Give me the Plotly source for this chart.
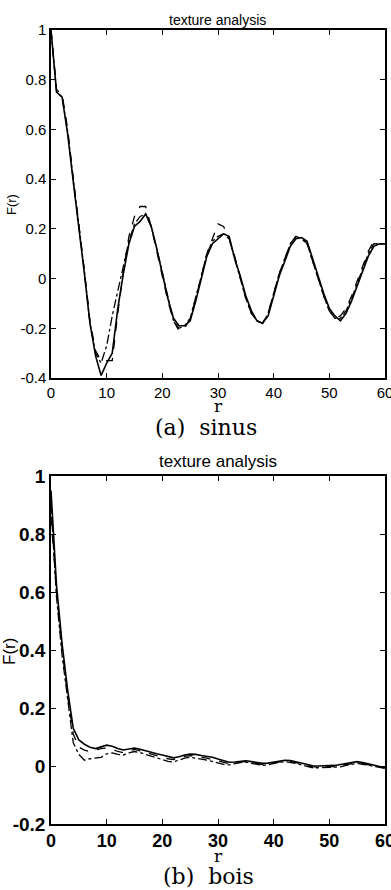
import plotly.graph_objects as go

# ---------------- data ----------------
r = list(range(0, 61))

sinus_solid = [1.00, 0.75, 0.73, 0.58, 0.39, 0.21, 0.02, -0.18, -0.31, -0.39,
               -0.34, -0.30, -0.12, 0.02, 0.14, 0.21, 0.23, 0.26, 0.21, 0.12,
               0.02, -0.08, -0.16, -0.19, -0.19, -0.17, -0.09, 0.00, 0.09, 0.14,
               0.16, 0.18, 0.17, 0.08, 0.01, -0.07, -0.13, -0.17, -0.18, -0.15,
               -0.07, 0.01, 0.07, 0.13, 0.16, 0.165, 0.15, 0.08, 0.01, -0.06,
               -0.12, -0.15, -0.17, -0.14, -0.09, -0.03, 0.03, 0.09, 0.13, 0.14,
               0.14]
sinus_dash = [1.00, 0.76, 0.74, 0.60, 0.40, 0.22, 0.03, -0.17, -0.29, -0.33,
              -0.33, -0.33, -0.14, 0.03, 0.17, 0.25, 0.29, 0.29, 0.21, 0.11,
              0.02, -0.09, -0.17, -0.21, -0.20, -0.16, -0.08, 0.01, 0.10, 0.16,
              0.22, 0.21, 0.16, 0.09, 0.00, -0.08, -0.14, -0.17, -0.18, -0.14,
              -0.06, 0.02, 0.08, 0.14, 0.17, 0.17, 0.14, 0.07, 0.00, -0.07,
              -0.13, -0.16, -0.15, -0.12, -0.07, -0.01, 0.05, 0.11, 0.15, 0.14,
              0.14]
sinus_dashdot = [1.00, 0.75, 0.73, 0.59, 0.40, 0.22, 0.03, -0.18, -0.30, -0.34,
                 -0.27, -0.15, -0.05, 0.04, 0.15, 0.22, 0.25, 0.26, 0.21, 0.12,
                 0.02, -0.08, -0.17, -0.20, -0.19, -0.16, -0.08, 0.01, 0.10, 0.15,
                 0.17, 0.18, 0.16, 0.08, 0.00, -0.08, -0.14, -0.17, -0.18, -0.14,
                 -0.06, 0.02, 0.08, 0.14, 0.17, 0.16, 0.14, 0.07, 0.00, -0.07,
                 -0.13, -0.16, -0.16, -0.13, -0.08, -0.02, 0.04, 0.10, 0.14, 0.14,
                 0.14]

bois_solid = [0.95, 0.62, 0.42, 0.26, 0.13, 0.09, 0.075, 0.065, 0.06, 0.065,
              0.072, 0.068, 0.06, 0.055, 0.058, 0.062, 0.058, 0.052, 0.047, 0.042,
              0.038, 0.032, 0.028, 0.032, 0.038, 0.041, 0.04, 0.036, 0.033, 0.03,
              0.024, 0.018, 0.013, 0.014, 0.017, 0.018, 0.015, 0.012, 0.009, 0.01,
              0.014, 0.018, 0.02, 0.019, 0.015, 0.011, 0.005, 0.001, 0.0, 0.0,
              0.0, 0.002, 0.005, 0.009, 0.013, 0.015, 0.012, 0.007, 0.003, -0.002,
              -0.006]
bois_dash = [0.86, 0.60, 0.40, 0.24, 0.11, 0.065, 0.055, 0.05, 0.055, 0.06,
             0.062, 0.058, 0.05, 0.046, 0.052, 0.057, 0.052, 0.046, 0.04, 0.035,
             0.03, 0.025, 0.022, 0.027, 0.033, 0.036, 0.034, 0.03, 0.027, 0.022,
             0.017, 0.012, 0.008, 0.01, 0.014, 0.015, 0.012, 0.008, 0.005, 0.007,
             0.011, 0.015, 0.017, 0.016, 0.012, 0.008, 0.002, -0.003, -0.004, -0.003,
             -0.002, -0.002, 0.001, 0.005, 0.009, 0.011, 0.008, 0.004, 0.0, -0.004,
             -0.007]
bois_dashdot = [0.90, 0.58, 0.38, 0.22, 0.08, 0.04, 0.02, 0.025, 0.027, 0.03,
                0.042, 0.045, 0.04, 0.038, 0.045, 0.05, 0.046, 0.04, 0.034, 0.028,
                0.022, 0.016, 0.014, 0.02, 0.027, 0.03, 0.028, 0.024, 0.02, 0.015,
                0.01, 0.006, 0.004, 0.008, 0.012, 0.013, 0.01, 0.005, 0.002, 0.004,
                0.009, 0.013, 0.015, 0.013, 0.009, 0.004, -0.002, -0.006, -0.006, -0.005,
                -0.004, -0.005, -0.003, 0.002, 0.006, 0.009, 0.006, 0.002, -0.002, -0.005,
                -0.008]

x_ticks = [0, 10, 20, 30, 40, 50, 60]
x_ticklabels = ["0", "10", "20", "30", "40", "50", "60"]
top_y_ticks = [-0.4, -0.2, 0, 0.2, 0.4, 0.6, 0.8, 1]
top_y_ticklabels = ["-0.4", "-0.2", "0", "0.2", "0.4", "0.6", "0.8", "1"]
bot_y_ticks = [-0.2, 0, 0.2, 0.4, 0.6, 0.8, 1]
bot_y_ticklabels = ["-0.2", "0", "0.2", "0.4", "0.6", "0.8", "1"]

panel_titles = ["texture analysis", "texture analysis"]
captions = ["(a)  sinus", "(b)  bois"]

# ---------------- figure ----------------
W, H = 391, 890
NARROW = "Liberation Sans Narrow, Arial Narrow, Liberation Sans, Arial, sans-serif"
SERIF = "DejaVu Serif, serif"

fig = go.Figure()

styles = [("solid", 1.6), ("dash", 1.3), ("dashdot", 1.3)]
for series, (dash, w) in zip([sinus_solid, sinus_dash, sinus_dashdot], styles):
    fig.add_trace(go.Scatter(x=r, y=series, mode="lines", xaxis="x", yaxis="y",
                             line=dict(color="black", width=w, dash=dash),
                             showlegend=False, hoverinfo="skip"))
for series, (dash, w) in zip([bois_solid, bois_dash, bois_dashdot], styles):
    fig.add_trace(go.Scatter(x=r, y=series, mode="lines", xaxis="x2", yaxis="y2",
                             line=dict(color="black", width=w, dash=dash),
                             showlegend=False, hoverinfo="skip"))

x_left, x_right = 51 / W, 385 / W
top_dom = [1 - 378 / H, 1 - 30 / H]
bot_dom = [1 - 824 / H, 1 - 476 / H]

axis_common = dict(showline=True, linecolor="black", linewidth=1.5, mirror="ticks",
                   ticks="inside", ticklen=5, tickcolor="black", tickwidth=1.2,
                   showgrid=False, zeroline=False, fixedrange=True,
                   ticklabeloverflow="allow", automargin=False)

fig.update_layout(
    width=W, height=H,
    margin=dict(l=0, r=0, t=0, b=0, autoexpand=False),
    paper_bgcolor="white", plot_bgcolor="white",
    xaxis=dict(domain=[x_left, x_right], anchor="y", range=[0, 60],
               tickvals=x_ticks, ticktext=x_ticklabels,
               tickfont=dict(family=NARROW, size=15, color="black"), **axis_common),
    yaxis=dict(domain=top_dom, anchor="x", range=[-0.4, 1],
               tickvals=top_y_ticks, ticktext=top_y_ticklabels,
               tickfont=dict(family=NARROW, size=15, color="black"), **axis_common),
    xaxis2=dict(domain=[x_left, x_right], anchor="y2", range=[0, 60],
                tickvals=x_ticks, ticktext=x_ticklabels,
                tickfont=dict(family=NARROW, size=18, color="black", weight="bold"), **axis_common),
    yaxis2=dict(domain=bot_dom, anchor="x2", range=[-0.2, 1],
                tickvals=bot_y_ticks, ticktext=bot_y_ticklabels,
                tickfont=dict(family=NARROW, size=19, color="black", weight="bold"), **axis_common),
)

cx = (x_left + x_right) / 2
ann = [
    # titles
    dict(text=panel_titles[0], x=cx, y=1 - 20 / H, font=dict(family=NARROW, size=14)),
    dict(text=panel_titles[1], x=cx, y=1 - 461 / H, font=dict(family=NARROW, size=17)),
    # y-axis titles
    dict(text="F(r)", x=11 / W, y=1 - 205 / H, textangle=-90, font=dict(family=NARROW, size=13)),
    dict(text="F(r)", x=9 / W, y=1 - 652 / H, textangle=-90, font=dict(family=NARROW, size=17)),
    # x-axis titles
    dict(text="r", x=218 / W, y=1 - 406 / H, font=dict(family=SERIF, size=17)),
    dict(text="r", x=218 / W, y=1 - 856 / H, font=dict(family=SERIF, size=17)),
    # captions
    dict(text=captions[0], x=206 / W, y=1 - 427 / H, font=dict(family=SERIF, size=22)),
    dict(text=captions[1], x=208 / W, y=1 - 876 / H, font=dict(family=SERIF, size=22)),
]
for a in ann:
    a.update(xref="paper", yref="paper", showarrow=False, xanchor="center", yanchor="middle")
    a["font"]["color"] = "black"
fig.update_layout(annotations=ann)

fig.write_html("out.html", config={"displayModeBar": False},
               post_script="document.body.style.margin='0';document.body.style.padding='0';"
                           "document.documentElement.style.overflow='hidden';")
